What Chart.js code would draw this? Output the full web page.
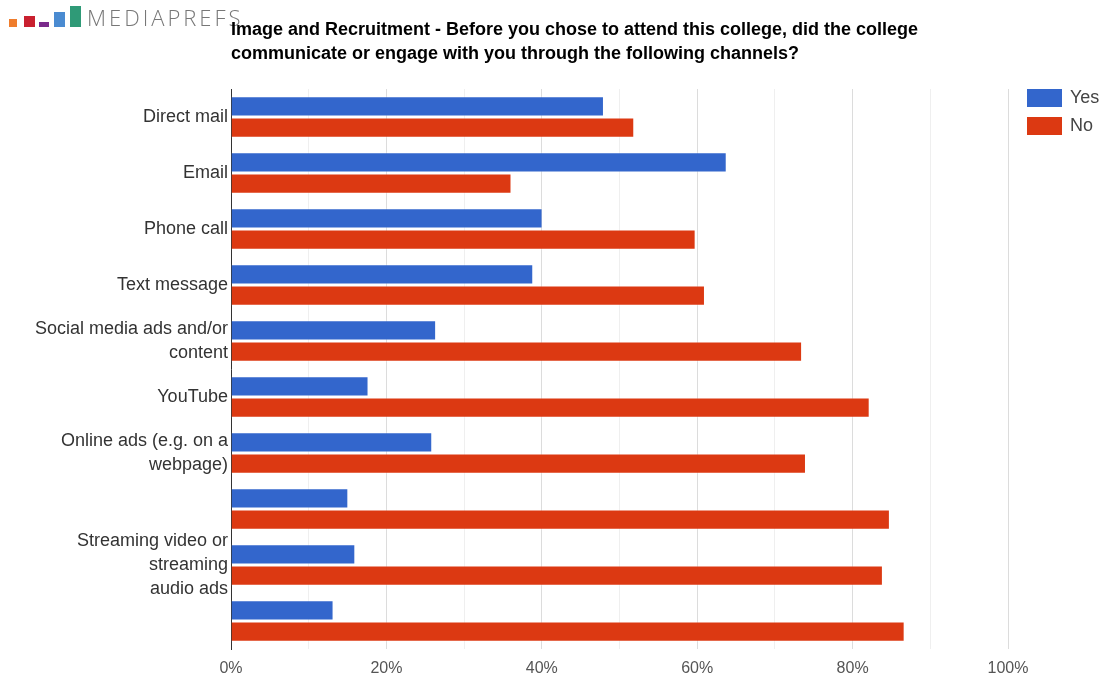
<!DOCTYPE html>
<html>
<head>
<meta charset="utf-8">
<script src="https://cdn.jsdelivr.net/npm/chart.js@4.4.1/dist/chart.umd.min.js"></script>
<style>
  html, body { margin: 0; padding: 0; background: #fff; }
  #wrap { position: relative; width: 1102px; height: 679px; }
  #logo { position: absolute; left: 0; top: 0; width: 260px; height: 34px; }
  #logo span { position: absolute; bottom: 7px; display: block; }
  #brand { position: absolute; left: 87px; top: 2px; font-family: 'Open Sans', sans-serif; font-weight: 300;
           font-size: 22px; color: #777; letter-spacing: 3px; }
  #title { position: absolute; left: 231px; top: 17px; font-family: 'Liberation Sans', Arial, sans-serif;
           font-weight: bold; font-size: 18px; line-height: 24px; color: #000; }
</style>
</head>
<body>
<div id="wrap">
  <canvas id="myBar" width="1102" height="679"></canvas>
  <div id="logo">
    <span style="left:9px;width:8px;height:8px;background:#ef7d2d"></span>
    <span style="left:24px;width:11px;height:11px;background:#c9202f"></span>
    <span style="left:39px;width:10px;height:5px;background:#7a2a8b"></span>
    <span style="left:54px;width:11px;height:15px;background:#4a8bd1"></span>
    <span style="left:70px;width:11px;height:21px;background:#2f9a77"></span>
    <div id="brand">MEDIAPREFS</div>
  </div>
  <div id="title">Image and Recruitment - Before you chose to attend this college, did the college<br>communicate or engage with you through the following channels?</div>
</div>
<script>
const Chart = window.Chart;

const categories = [
  'Direct mail',
  'Email',
  'Phone call',
  'Text message',
  ['Social media ads and/or', 'content'],
  'YouTube',
  ['Online ads (e.g. on a', 'webpage)'],
  '',
  ['Streaming video or', 'streaming', 'audio ads'],
  ''
];
const yesValues = [48.0, 63.8, 40.1, 38.9, 26.4, 17.7, 25.9, 15.1, 16.0, 13.2];
const noValues = [51.9, 36.1, 59.8, 61.0, 73.5, 82.2, 74.0, 84.8, 83.9, 86.7];
const xTicks = [0, 20, 40, 60, 80, 100];

const fontFamily = '"Liberation Sans", Arial, sans-serif';

// legend drawn to the right of the plot area
const sideLegend = {
  id: 'sideLegend',
  afterDraw(chart) {
    const ctx = chart.ctx;
    const x = chart.chartArea.right + 19;
    ctx.save();
    ctx.font = '18px ' + fontFamily;
    ctx.textBaseline = 'middle';
    chart.data.datasets.forEach((ds, i) => {
      const y = 89 + i * 28;
      ctx.fillStyle = ds.backgroundColor;
      ctx.fillRect(x, y, 35, 18);
      ctx.fillStyle = '#444';
      ctx.fillText(ds.label, x + 43, y + 9);
    });
    ctx.restore();
  }
};

const barCtx = document.getElementById('myBar').getContext('2d');
new Chart(barCtx, {
  type: 'bar',
  data: {
    labels: categories,
    datasets: [
      {
        label: 'Yes',
        data: yesValues,
        backgroundColor: '#3366cc',
        borderColor: 'rgba(255,255,255,0.35)',
        borderWidth: 1,
        categoryPercentage: 0.76,
        barPercentage: 0.95
      },
      {
        label: 'No',
        data: noValues,
        backgroundColor: '#dc3912',
        borderColor: 'rgba(255,255,255,0.35)',
        borderWidth: 1,
        categoryPercentage: 0.76,
        barPercentage: 0.95
      }
    ]
  },
  options: {
    indexAxis: 'y',
    responsive: false,
    animation: false,
    layout: { padding: { top: 89, right: 94, bottom: 0, left: 0 } },
    plugins: {
      legend: { display: false },
      tooltip: { enabled: false }
    },
    scales: {
      x: {
        min: 0,
        max: 100,
        ticks: {
          stepSize: 10,
          padding: 10,
          autoSkip: false,
          maxRotation: 0,
          color: '#555',
          font: { family: fontFamily, size: 16 },
          callback: v => xTicks.includes(v) ? v + '%' : ''
        },
        grid: {
          drawTicks: false,
          color: c => (c.tick && c.tick.value % 20 === 0) ? '#dcdcdc' : '#efefef'
        },
        border: { display: false },
        afterFit: scale => { scale.height = 30; }
      },
      y: {
        ticks: {
          padding: 3,
          autoSkip: false,
          color: '#333',
          font: { family: fontFamily, size: 18, lineHeight: 1.333 }
        },
        grid: { display: false, drawTicks: false },
        border: { display: true, color: '#333', width: 1 },
        afterFit: scale => { scale.width = 231; }
      }
    }
  },
  plugins: [sideLegend]
});
</script>
</body>
</html>
